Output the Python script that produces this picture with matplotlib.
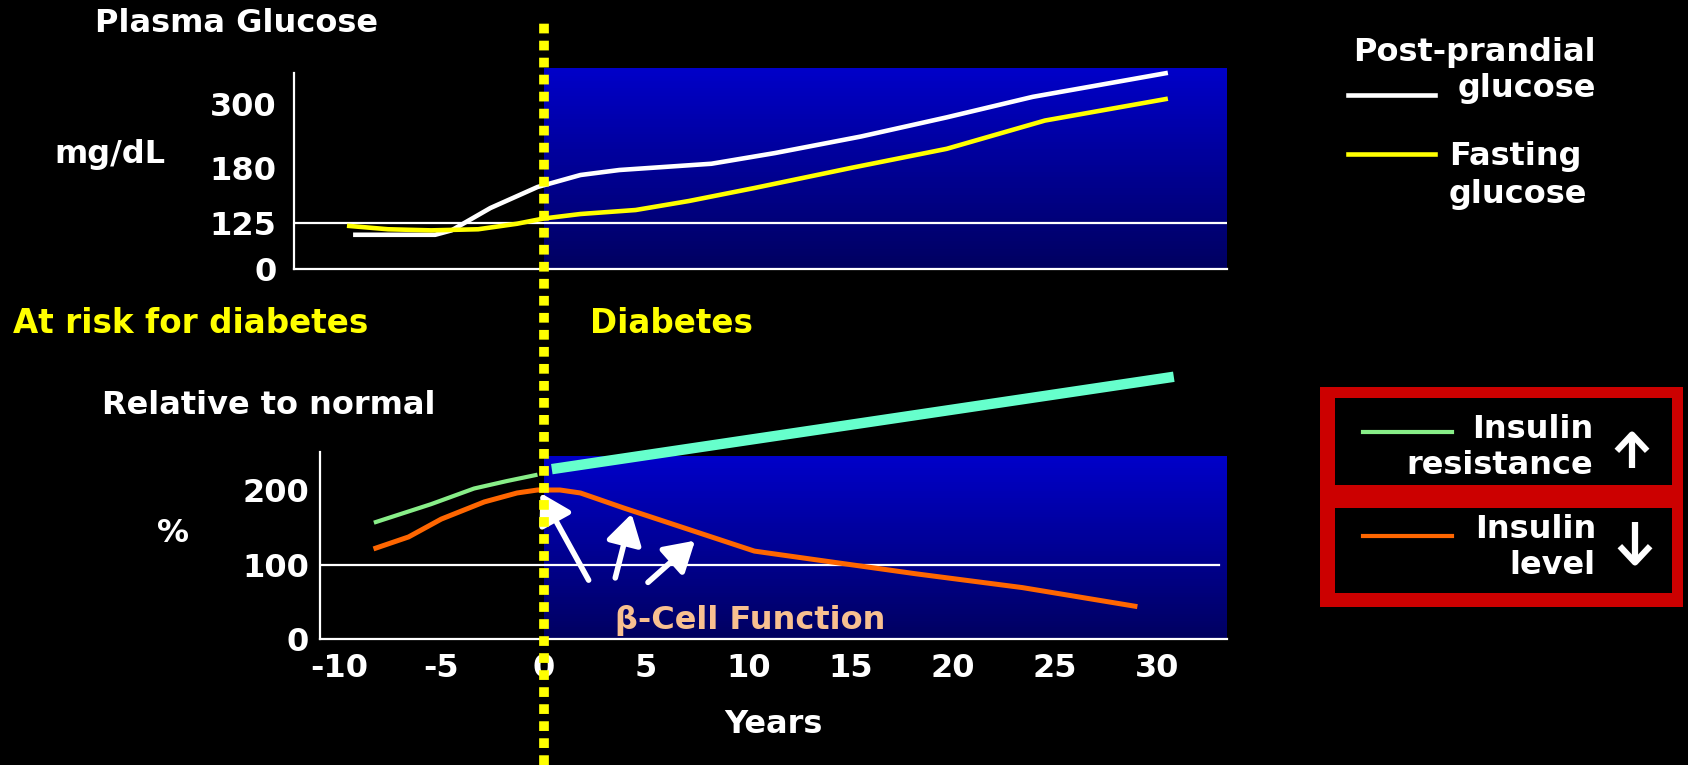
import numpy as np
import matplotlib
matplotlib.use('Agg')
import matplotlib.pyplot as plt
from matplotlib.colors import LinearSegmentedColormap
from matplotlib.lines import Line2D
from matplotlib.patches import Rectangle, FancyArrowPatch
import matplotlib.transforms as mtransforms

plt.rcParams['font.family'] = ['DejaVu Sans']
plt.rcParams['font.weight'] = 'bold'
plt.rcParams['axes.labelweight'] = 'bold'
plt.rcParams['axes.unicode_minus'] = False

# plasma glucose (mg/dL) against years from diagnosis
pp_years = [-9.2, -5.3, -4.5, -2.6, -0.3, 1.8, 3.7, 8.2, 11.3, 15.5, 19.7, 23.9, 30.4]
pp_glucose = [93, 93, 105, 140, 161, 173, 178, 188, 208, 239, 275, 313, 356]
fast_years = [-9.5, -7.6, -5.5, -3.2, -1.3, 0, 1.8, 4.5, 7.1, 10.3, 15, 19.7, 24.5, 30.4]
fast_glucose = [117, 108, 105, 108, 123, 129.5, 134, 138, 147, 160, 180, 216, 269, 309]
glucose_ticks = [0, 125, 180, 300]
glucose_cut = 125

# insulin resistance and insulin level, % of normal
ir_years = [-8.2, -5.5, -3.4, -1.8, -0.4]
ir_pct = [157, 181, 202, 212, 220]
ir_trend_years = [0.4, 30.8]
ir_trend_pct = [228, 352]
ins_years = [-8.2, -6.6, -5, -2.9, -1.3, -0.3, 0.8, 1.8, 3.9, 7.1, 10.3, 13.4, 18.2, 23.4, 28.9]
ins_pct = [122, 137, 161, 184, 196, 200, 200, 196, 176, 147, 118, 106, 87.5, 69, 44]
pct_ticks = [0, 100, 200]
pct_normal = 100
year_ticks = [-10, -5, 0, 5, 10, 15, 20, 25, 30]
diagnosis_year = 0

# beta-cell arrows (tail, head)
arrow_tails = [(2.2, 79), (3.5, 82), (5.1, 76)]
arrow_heads = [(-0.15, 196), (4.3, 168), (7.4, 132)]

W, H = 1688, 765


def fx(px):
    return px / W


def fy(py):
    return 1 - py / H


# glucose axis is drawn on a stretched, schematic scale
g_knots = [0, 125, 180, 300, 400]
h_knots = [0, 46, 101, 165, 220]


def g_fwd(v):
    return np.interp(v, g_knots, h_knots)


def g_inv(v):
    return np.interp(v, h_knots, g_knots)


blue_fade = LinearSegmentedColormap.from_list('blue_fade', ['#000060', '#0000c8'])


def shade(ax, top_frac):
    x1 = ax.get_xlim()[1]
    yy = np.linspace(0, top_frac, 80)
    cc = np.linspace(0, 1, 79)[:, None]
    ax.pcolormesh([diagnosis_year, x1], yy, cc, cmap=blue_fade, shading='flat',
                  transform=ax.get_xaxis_transform(), zorder=0)


def style_axes(ax, ypad):
    ax.set_facecolor('none')
    for s in ['top', 'right']:
        ax.spines[s].set_visible(False)
    for s in ['left', 'bottom']:
        ax.spines[s].set_color('white')
        ax.spines[s].set_linewidth(1.6)
    ax.tick_params(length=0, labelcolor='white', labelsize=23)
    ax.tick_params(axis='y', pad=ypad)
    ax.tick_params(axis='x', pad=10)


def updown(x, y_tail, y_tip):
    fig.add_artist(FancyArrowPatch((fx(x), fy(y_tail)), (fx(x), fy(y_tip)),
                                   transform=fig.transFigure,
                                   arrowstyle='->,head_length=0.45,head_width=0.42',
                                   mutation_scale=26, lw=4.5, color='white',
                                   shrinkA=0, shrinkB=0, capstyle='butt'))


fig = plt.figure(figsize=(16.88, 7.65), dpi=100, facecolor='black')

# --- plasma glucose panel
ax1 = fig.add_axes([fx(294), fy(269), fx(1227) - fx(294), (269 - 68) / H])
ax1.set_yscale('function', functions=(g_fwd, g_inv))
ax1.set_xlim(-12.2, 33.4)
ax1.set_ylim(0, 365.5)
style_axes(ax1, 12.5)
ax1.spines['left'].set_bounds(0, 356)
ax1.set_xticks([])
ax1.set_yticks(glucose_ticks)
shade(ax1, 1.0)
ax1.axhline(glucose_cut, color='white', lw=1.6, zorder=1)
ax1.plot(pp_years, pp_glucose, color='white', lw=3.3, zorder=3)
ax1.plot(fast_years, fast_glucose, color='#ffff00', lw=3.3, zorder=3)

# --- insulin panel
ax2 = fig.add_axes([fx(320), fy(639), fx(1227) - fx(320), (639 - 360) / H])
ax2.set_xlim(-10.93, 33.4)
ax2.set_ylim(0, 374.5)
style_axes(ax2, 8)
ax2.spines['left'].set_bounds(0, 251)
ax2.set_xticks(year_ticks)
ax2.set_yticks(pct_ticks)
shade(ax2, 245 / 374.5)
ax2.axhline(pct_normal, xmax=(1219 - 320) / (1227 - 320), color='white', lw=1.6, zorder=1)
ax2.plot(ir_years, ir_pct, color='#88ee88', lw=3, zorder=3)
ax2.plot(ir_trend_years, ir_trend_pct, color='#66ffcc', lw=7.5,
         solid_capstyle='butt', zorder=3, clip_on=False)
ax2.plot(ins_years, ins_pct, color='#ff6600', lw=3.6, zorder=3)
for tail, head in zip(arrow_tails, arrow_heads):
    ax2.annotate('', xy=head, xytext=tail,
                 arrowprops=dict(arrowstyle='-|>,head_length=0.4,head_width=0.24',
                                 mutation_scale=45, lw=4, color='white',
                                 shrinkA=0, shrinkB=0), zorder=4)
ax2.text(3.5, 25, 'β-Cell Function', color='#f8c090', fontsize=23, va='center', zorder=4)
ax2.set_xlabel('Years', color='white', fontsize=23, labelpad=18)

# yellow dotted line at diagnosis, across both panels
trans = mtransforms.blended_transform_factory(ax2.transData, fig.transFigure)
fig.add_artist(Line2D([diagnosis_year, diagnosis_year], [0, fy(22)], transform=trans,
                      color='#ffff00', lw=7, linestyle=(0, (1.0, 0.75)),
                      solid_capstyle='butt', dash_capstyle='butt', zorder=10))

# labels
txt = dict(color='white', fontsize=23, va='center')
fig.text(fx(95), fy(24), 'Plasma Glucose', **txt)
fig.text(fx(54), fy(154), 'mg/dL', **txt)
fig.text(fx(102), fy(405), 'Relative to normal', **txt)
fig.text(fx(157), fy(534), '%', **txt)
fig.text(fx(13), fy(323), 'At risk for diabetes', color='#ffff00', fontsize=23.5, va='center')
fig.text(fx(590), fy(323), 'Diabetes', color='#ffff00', fontsize=23.5, va='center')

# glucose legend
fig.text(fx(1596), fy(52), 'Post-prandial', ha='right', **txt)
fig.text(fx(1596), fy(89), 'glucose', ha='right', **txt)
fig.add_artist(Line2D([fx(1348), fx(1435)], [fy(95), fy(95)], color='white', lw=3.3))
fig.add_artist(Line2D([fx(1348), fx(1435)], [fy(154), fy(154)], color='#ffff00', lw=3.3))
fig.text(fx(1449), fy(157), 'Fasting', ha='left', **txt)
fig.text(fx(1449), fy(194), 'glucose', ha='left', **txt)

# insulin legend box
fig.add_artist(Rectangle((fx(1320), fy(607)), fx(1683) - fx(1320), (607 - 387) / H,
                         facecolor='#cc0000', edgecolor='none'))
fig.add_artist(Rectangle((fx(1335), fy(485)), fx(1672) - fx(1335), (485 - 398) / H,
                         facecolor='black', edgecolor='none'))
fig.add_artist(Rectangle((fx(1335), fy(593)), fx(1672) - fx(1335), (593 - 508) / H,
                         facecolor='black', edgecolor='none'))
fig.add_artist(Line2D([fx(1363), fx(1452)], [fy(432), fy(432)], color='#88ee88', lw=3))
fig.add_artist(Line2D([fx(1363), fx(1452)], [fy(536), fy(536)], color='#ff6600', lw=3))
fig.text(fx(1593), fy(429), 'Insulin', ha='right', **txt)
fig.text(fx(1593), fy(466), 'resistance', ha='right', **txt)
fig.text(fx(1596), fy(529), 'Insulin', ha='right', **txt)
fig.text(fx(1596), fy(565), 'level', ha='right', **txt)
updown(1632, 468, 430)
updown(1635, 522, 567)

fig.savefig('out.png', dpi=100, facecolor='black')
